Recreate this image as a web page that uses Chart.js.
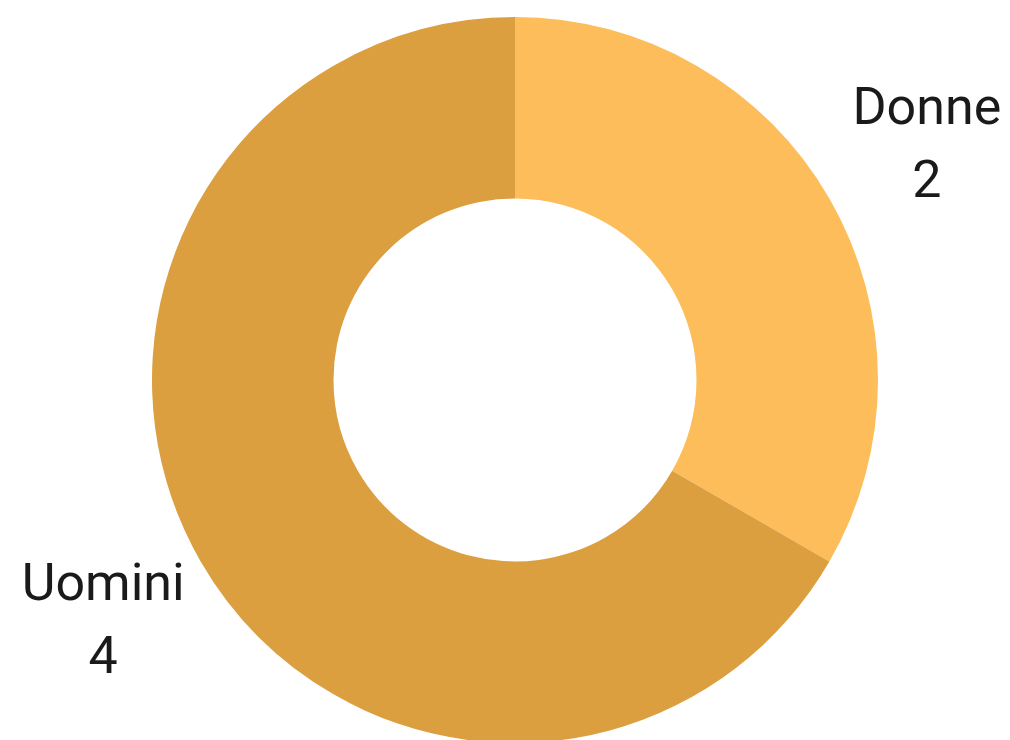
<!DOCTYPE html>
<html>
<head>
<meta charset="utf-8">
<script src="https://cdn.jsdelivr.net/npm/chart.js@4"></script>
<style>
  html, body { margin: 0; padding: 0; background: #fff; overflow: hidden; }
  #wrap { width: 1010px; height: 760px; }
</style>
</head>
<body>
<div id="wrap"><canvas id="chart"></canvas></div>
<script>
const labels = ['Donne', 'Uomini'];
const values = [2, 4];
const colors = ['#FCBD5A', '#DB9F40'];

// draws "name / value" outside each slice, along the middle angle
const outsideLabels = {
    id: 'outsideLabels',
    afterDatasetsDraw(chart) {
        const ctx = chart.ctx;
        const meta = chart.getDatasetMeta(0);
        ctx.save();
        ctx.font = '52px Roboto';
        ctx.fillStyle = '#1a1a1a';
        ctx.textAlign = 'center';
        ctx.textBaseline = 'alphabetic';
        meta.data.forEach((arc, i) => {
            const mid = (arc.startAngle + arc.endAngle) / 2;
            const r = arc.outerRadius * 1.31;
            const x = arc.x + Math.cos(mid) * r;
            const y = arc.y + Math.sin(mid) * r;
            ctx.fillText(labels[i], x, y - 36.75 + 18.5);
            ctx.fillText(String(values[i]), x, y + 36.75 + 18.5);
        });
        ctx.restore();
    }
};

new Chart(document.getElementById('chart'), {
    type: 'doughnut',
    data: {
        labels: labels,
        datasets: [{
            data: values,
            backgroundColor: colors,
            borderWidth: 0
        }]
    },
    options: {
        responsive: true,
        maintainAspectRatio: false,
        animation: false,
        cutout: '50%',
        layout: { padding: { top: 17, bottom: 17, left: 20, right: 0 } },
        plugins: {
            legend: { display: false },
            tooltip: { enabled: false }
        }
    },
    plugins: [outsideLabels]
});
</script>
</body>
</html>
